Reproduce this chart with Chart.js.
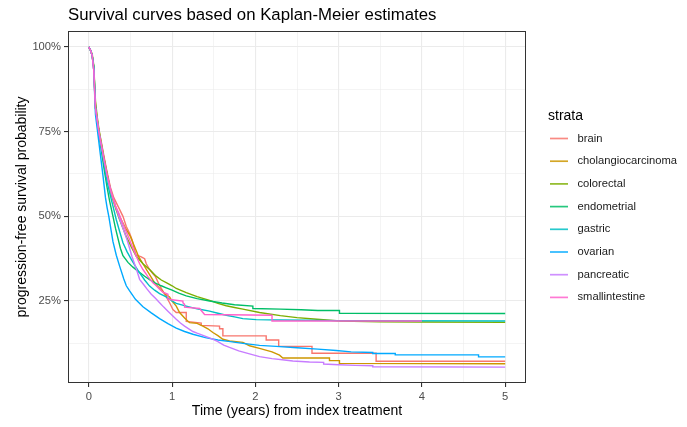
<!DOCTYPE html>
<html>
<head>
<meta charset="utf-8">
<script src="https://cdn.jsdelivr.net/npm/chart.js@4/dist/chart.umd.min.js"></script>
<style>
  html, body { margin: 0; padding: 0; background: #ffffff; }
  #wrap { width: 687px; height: 427px; }
</style>
</head>
<body>
<div id="wrap"><canvas id="km" width="687" height="427"></canvas></div>
<script>
// Kaplan-Meier progression-free survival estimates, [time in years, survival]
const brain = [[0,1],[0.02,0.99],[0.04,0.975],[0.06,0.94],[0.07,0.88],[0.08,0.83],[0.1,0.79],[0.12,0.755],[0.15,0.72],[0.18,0.68],[0.22,0.63],[0.26,0.585],[0.3,0.555],[0.35,0.53],[0.41,0.5],[0.45,0.47],[0.49,0.45],[0.52,0.43],[0.55,0.4],[0.57,0.385],[0.6,0.383],[0.63,0.38],[0.67,0.375],[0.69,0.36],[0.73,0.343],[0.77,0.33],[0.8,0.322],[0.85,0.296],[0.9,0.275],[0.97,0.245],[1.01,0.225],[1.05,0.216],[1.17,0.216],[1.17,0.19],[1.35,0.185],[1.35,0.178],[1.57,0.176],[1.57,0.168],[1.61,0.168],[1.61,0.147],[2.13,0.147],[2.13,0.135],[2.28,0.135],[2.28,0.116],[2.68,0.116],[2.68,0.096],[3.45,0.096],[3.45,0.072],[5.0,0.072]];
const cholangiocarcinoma = [[0,1],[0.02,0.99],[0.04,0.975],[0.06,0.93],[0.07,0.87],[0.08,0.82],[0.1,0.785],[0.12,0.75],[0.15,0.71],[0.18,0.67],[0.22,0.62],[0.27,0.57],[0.32,0.53],[0.36,0.505],[0.39,0.49],[0.44,0.465],[0.5,0.44],[0.55,0.41],[0.6,0.38],[0.65,0.36],[0.7,0.34],[0.75,0.32],[0.8,0.3],[0.86,0.285],[0.93,0.268],[0.97,0.262],[1.0,0.25],[1.05,0.235],[1.09,0.216],[1.15,0.2],[1.21,0.186],[1.3,0.184],[1.37,0.176],[1.43,0.168],[1.49,0.157],[1.55,0.148],[1.61,0.137],[1.69,0.132],[1.85,0.128],[1.93,0.118],[2.05,0.11],[2.2,0.1],[2.29,0.09],[2.33,0.082],[2.89,0.082],[2.89,0.074],[3.01,0.074],[3.01,0.066],[5.0,0.065]];
const colorectal = [[0,1],[0.02,0.99],[0.04,0.98],[0.06,0.945],[0.07,0.89],[0.08,0.84],[0.1,0.795],[0.12,0.76],[0.15,0.715],[0.18,0.675],[0.22,0.625],[0.27,0.565],[0.32,0.525],[0.37,0.49],[0.41,0.465],[0.45,0.44],[0.51,0.41],[0.57,0.382],[0.65,0.36],[0.73,0.343],[0.8,0.325],[0.87,0.312],[0.93,0.304],[1.0,0.295],[1.05,0.287],[1.17,0.275],[1.3,0.263],[1.45,0.252],[1.55,0.243],[1.65,0.236],[1.75,0.231],[1.85,0.226],[2.05,0.216],[2.3,0.207],[2.5,0.201],[2.7,0.197],[3.01,0.191],[3.5,0.189],[4.0,0.188],[5.0,0.187]];
const endometrial = [[0,1],[0.02,0.99],[0.04,0.975],[0.06,0.94],[0.07,0.88],[0.08,0.82],[0.1,0.78],[0.12,0.745],[0.15,0.695],[0.18,0.645],[0.22,0.585],[0.25,0.545],[0.29,0.5],[0.32,0.465],[0.35,0.435],[0.38,0.405],[0.41,0.384],[0.47,0.364],[0.53,0.35],[0.6,0.336],[0.67,0.323],[0.73,0.313],[0.8,0.303],[0.87,0.295],[0.93,0.289],[1.0,0.282],[1.08,0.273],[1.17,0.265],[1.3,0.257],[1.45,0.25],[1.6,0.244],[1.75,0.239],[1.97,0.235],[1.97,0.228],[2.3,0.226],[2.55,0.224],[2.75,0.222],[3.01,0.222],[3.01,0.214],[5.0,0.213]];
const gastric = [[0,1],[0.02,0.99],[0.04,0.975],[0.06,0.94],[0.07,0.88],[0.08,0.82],[0.1,0.785],[0.12,0.75],[0.15,0.705],[0.18,0.66],[0.22,0.6],[0.26,0.56],[0.29,0.53],[0.33,0.49],[0.37,0.455],[0.41,0.422],[0.46,0.395],[0.51,0.373],[0.56,0.352],[0.61,0.333],[0.67,0.312],[0.73,0.294],[0.79,0.282],[0.85,0.272],[0.93,0.262],[1.0,0.25],[1.05,0.243],[1.17,0.235],[1.3,0.227],[1.45,0.22],[1.55,0.214],[1.65,0.208],[1.75,0.203],[1.85,0.198],[2.01,0.195],[2.3,0.194],[2.6,0.193],[3.0,0.192],[5.0,0.191]];
const ovarian = [[0,1],[0.02,0.99],[0.04,0.975],[0.06,0.93],[0.07,0.86],[0.08,0.8],[0.1,0.76],[0.12,0.72],[0.14,0.68],[0.17,0.62],[0.2,0.555],[0.22,0.525],[0.24,0.5],[0.27,0.455],[0.29,0.425],[0.33,0.385],[0.37,0.353],[0.42,0.315],[0.45,0.295],[0.49,0.28],[0.56,0.255],[0.65,0.233],[0.75,0.215],[0.85,0.198],[0.95,0.183],[1.05,0.17],[1.15,0.16],[1.25,0.152],[1.4,0.142],[1.55,0.135],[1.7,0.13],[1.85,0.125],[2.05,0.119],[2.25,0.116],[2.5,0.112],[2.75,0.108],[2.97,0.104],[3.15,0.1],[3.41,0.098],[3.41,0.095],[3.68,0.095],[3.68,0.091],[4.68,0.091],[4.68,0.085],[5.0,0.085]];
const pancreatic = [[0,1],[0.02,0.99],[0.04,0.975],[0.06,0.93],[0.07,0.87],[0.08,0.82],[0.1,0.785],[0.12,0.75],[0.15,0.71],[0.18,0.67],[0.22,0.62],[0.27,0.57],[0.32,0.53],[0.36,0.5],[0.41,0.465],[0.46,0.43],[0.52,0.38],[0.57,0.345],[0.61,0.314],[0.66,0.298],[0.7,0.285],[0.75,0.27],[0.8,0.258],[0.85,0.245],[0.9,0.232],[0.95,0.22],[1.0,0.208],[1.05,0.196],[1.1,0.185],[1.15,0.176],[1.2,0.168],[1.25,0.16],[1.3,0.155],[1.41,0.145],[1.48,0.138],[1.55,0.13],[1.62,0.12],[1.69,0.113],[1.8,0.103],[1.93,0.094],[2.05,0.086],[2.2,0.08],[2.35,0.076],[2.45,0.073],[2.65,0.07],[2.82,0.069],[2.82,0.064],[3.0,0.062],[3.2,0.06],[3.41,0.059],[3.41,0.056],[5.0,0.055]];
const smallintestine = [[0,1],[0.02,0.99],[0.04,0.975],[0.06,0.93],[0.07,0.87],[0.08,0.82],[0.1,0.785],[0.12,0.75],[0.15,0.71],[0.18,0.67],[0.22,0.62],[0.27,0.57],[0.32,0.53],[0.36,0.51],[0.39,0.49],[0.44,0.46],[0.49,0.431],[0.53,0.405],[0.57,0.382],[0.61,0.36],[0.65,0.343],[0.71,0.322],[0.77,0.304],[0.81,0.295],[0.85,0.285],[0.89,0.276],[0.95,0.27],[0.95,0.255],[1.13,0.25],[1.13,0.245],[1.15,0.24],[1.15,0.232],[1.33,0.228],[1.39,0.21],[2.2,0.208],[2.2,0.191],[4.0,0.191]];

const strata = ['brain', 'cholangiocarcinoma', 'colorectal', 'endometrial', 'gastric', 'ovarian', 'pancreatic', 'smallintestine'];
const curves = [brain, cholangiocarcinoma, colorectal, endometrial, gastric, ovarian, pancreatic, smallintestine];

// axis breaks: major ones get labels, minor ones only a faint grid line
const xTicks = [0, 0.5, 1, 1.5, 2, 2.5, 3, 3.5, 4, 4.5, 5];
const xMajor = [0, 1, 2, 3, 4, 5];
const yTicks = [0.125, 0.25, 0.375, 0.5, 0.625, 0.75, 0.875, 1];
const yMajor = [0.25, 0.5, 0.75, 1];

const palette = ['#F8766D', '#CD9600', '#7CAE00', '#00BE67', '#00BFC4', '#00A9FF', '#C77CFF', '#FF61CC'];
const FONT = '"Liberation Sans", Arial, Helvetica, sans-serif';
const isMajor = (list, v) => list.some(m => Math.abs(m - v) < 1e-9);

Chart.defaults.font.family = FONT;

const datasets = strata.map((name, i) => ({
  label: name,
  data: curves[i].map(([t, s]) => ({ x: t, y: s })),
  borderColor: palette[i],
  backgroundColor: palette[i],
  borderWidth: 1.4,
  pointRadius: 0,
  fill: false,
  tension: 0,
  order: strata.length - i
}));

// title, panel border and strata legend
const decor = {
  id: 'decor',
  afterDraw(chart) {
    const { ctx, chartArea: a } = chart;
    ctx.save();
    ctx.strokeStyle = '#333333';
    ctx.lineWidth = 1;
    ctx.strokeRect(Math.round(a.left) + 0.5, Math.round(a.top) + 0.5,
                   Math.round(a.right - a.left) - 1, Math.round(a.bottom - a.top) - 1);

    ctx.fillStyle = '#000000';
    ctx.textAlign = 'left';
    ctx.textBaseline = 'alphabetic';
    ctx.font = '16.8px ' + FONT;
    ctx.fillText('Survival curves based on Kaplan-Meier estimates', 68, 20);

    ctx.font = '14px ' + FONT;
    ctx.fillText('strata', 548, 120);

    ctx.font = '11.2px ' + FONT;
    ctx.textBaseline = 'middle';
    chart.data.datasets.forEach((ds, i) => {
      const y = 138.5 + i * 22.7;
      ctx.strokeStyle = ds.borderColor;
      ctx.globalAlpha = 0.85;
      ctx.lineWidth = 1.7;
      ctx.beginPath();
      ctx.moveTo(550, y);
      ctx.lineTo(568, y);
      ctx.stroke();
      ctx.globalAlpha = 1;
      ctx.fillStyle = '#1a1a1a';
      ctx.fillText(ds.label, 577.5, y);
    });
    ctx.restore();
  }
};

new Chart(document.getElementById('km'), {
  type: 'line',
  data: { datasets },
  options: {
    responsive: false,
    animation: false,
    devicePixelRatio: 1,
    layout: { padding: { top: 31, right: 161, left: 0, bottom: 0 } },
    plugins: { legend: { display: false }, tooltip: { enabled: false }, title: { display: false } },
    scales: {
      x: {
        type: 'linear',
        min: -0.25,
        max: 5.25,
        afterBuildTicks: s => { s.ticks = xTicks.map(v => ({ value: v })); },
        afterFit: s => { s.height = 44; },
        ticks: {
          autoSkip: false,
          maxRotation: 0,
          padding: 3,
          color: '#4d4d4d',
          font: { size: 11.2 },
          callback: v => isMajor(xMajor, v) ? String(v) : ''
        },
        grid: {
          color: '#ebebeb',
          lineWidth: c => isMajor(xMajor, c.tick.value) ? 1.1 : 0.55,
          tickColor: c => isMajor(xMajor, c.tick.value) ? '#333333' : 'rgba(0,0,0,0)',
          tickLength: 4
        },
        border: { display: false },
        title: {
          display: true,
          text: 'Time (years) from index treatment',
          color: '#000000',
          font: { size: 14 },
          padding: { top: 2, bottom: 7 }
        }
      },
      y: {
        type: 'linear',
        min: 0.008,
        max: 1.047,
        afterBuildTicks: s => { s.ticks = yTicks.map(v => ({ value: v })); },
        afterFit: s => { s.width = 68; },
        ticks: {
          autoSkip: false,
          padding: 3,
          color: '#4d4d4d',
          font: { size: 11.2 },
          callback: v => isMajor(yMajor, v) ? Math.round(v * 100) + '%' : ''
        },
        grid: {
          color: '#ebebeb',
          lineWidth: c => isMajor(yMajor, c.tick.value) ? 1.1 : 0.55,
          tickColor: c => isMajor(yMajor, c.tick.value) ? '#333333' : 'rgba(0,0,0,0)',
          tickLength: 4
        },
        border: { display: false },
        title: {
          display: true,
          text: 'progression-free survival probability',
          color: '#000000',
          font: { size: 14 },
          padding: { top: 14, bottom: 0 }
        }
      }
    }
  },
  plugins: [decor]
});
</script>
</body>
</html>
